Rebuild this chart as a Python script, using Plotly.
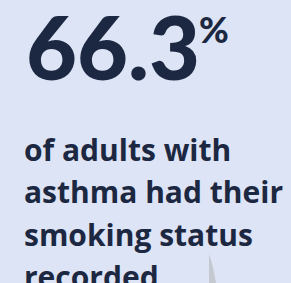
import plotly.graph_objects as go

value = 66.3
unit = "%"
caption_lines = ["of adults with", "asthma had their", "smoking status", "recorded."]

W, H = 291, 283
BG = "#dde4f5"
INK = "#1c2841"

fig = go.Figure()
fig.update_layout(
    width=W, height=H, margin=dict(l=0, r=0, t=0, b=0), autosize=False,
    paper_bgcolor=BG, plot_bgcolor=BG,
    xaxis=dict(visible=False, range=[0, W]),
    yaxis=dict(visible=False, range=[H, 0]),
    showlegend=False,
)

fig.add_annotation(
    text=f"{value:.1f}", x=24, y=46, xref="x", yref="y",
    xanchor="left", yanchor="middle", showarrow=False,
    font=dict(family="Lato", size=88, color=INK, weight=900),
)
fig.add_annotation(
    text=unit, x=197, y=29, xref="x", yref="y",
    xanchor="left", yanchor="middle", showarrow=False,
    font=dict(family="Lato", size=36, color=INK, weight=900),
)
for i, line in enumerate(caption_lines):
    fig.add_annotation(
        text=line, x=22, y=149 + 42.5 * i, xref="x", yref="y",
        xanchor="left", yanchor="middle", align="left", showarrow=False,
        font=dict(family="Open Sans", size=30, color=INK, weight=700),
    )

fig.add_shape(type="path", xref="x", yref="y",
              path="M 209 254 L 209 283 L 216 283 Q 213 265 209 254 Z",
              fillcolor="#c4c9cf", line=dict(width=0), layer="below")

fig.write_html("out.html", config={"displayModeBar": False},
               post_script="document.body.style.margin='0';document.body.style.background='%s';" % BG)
